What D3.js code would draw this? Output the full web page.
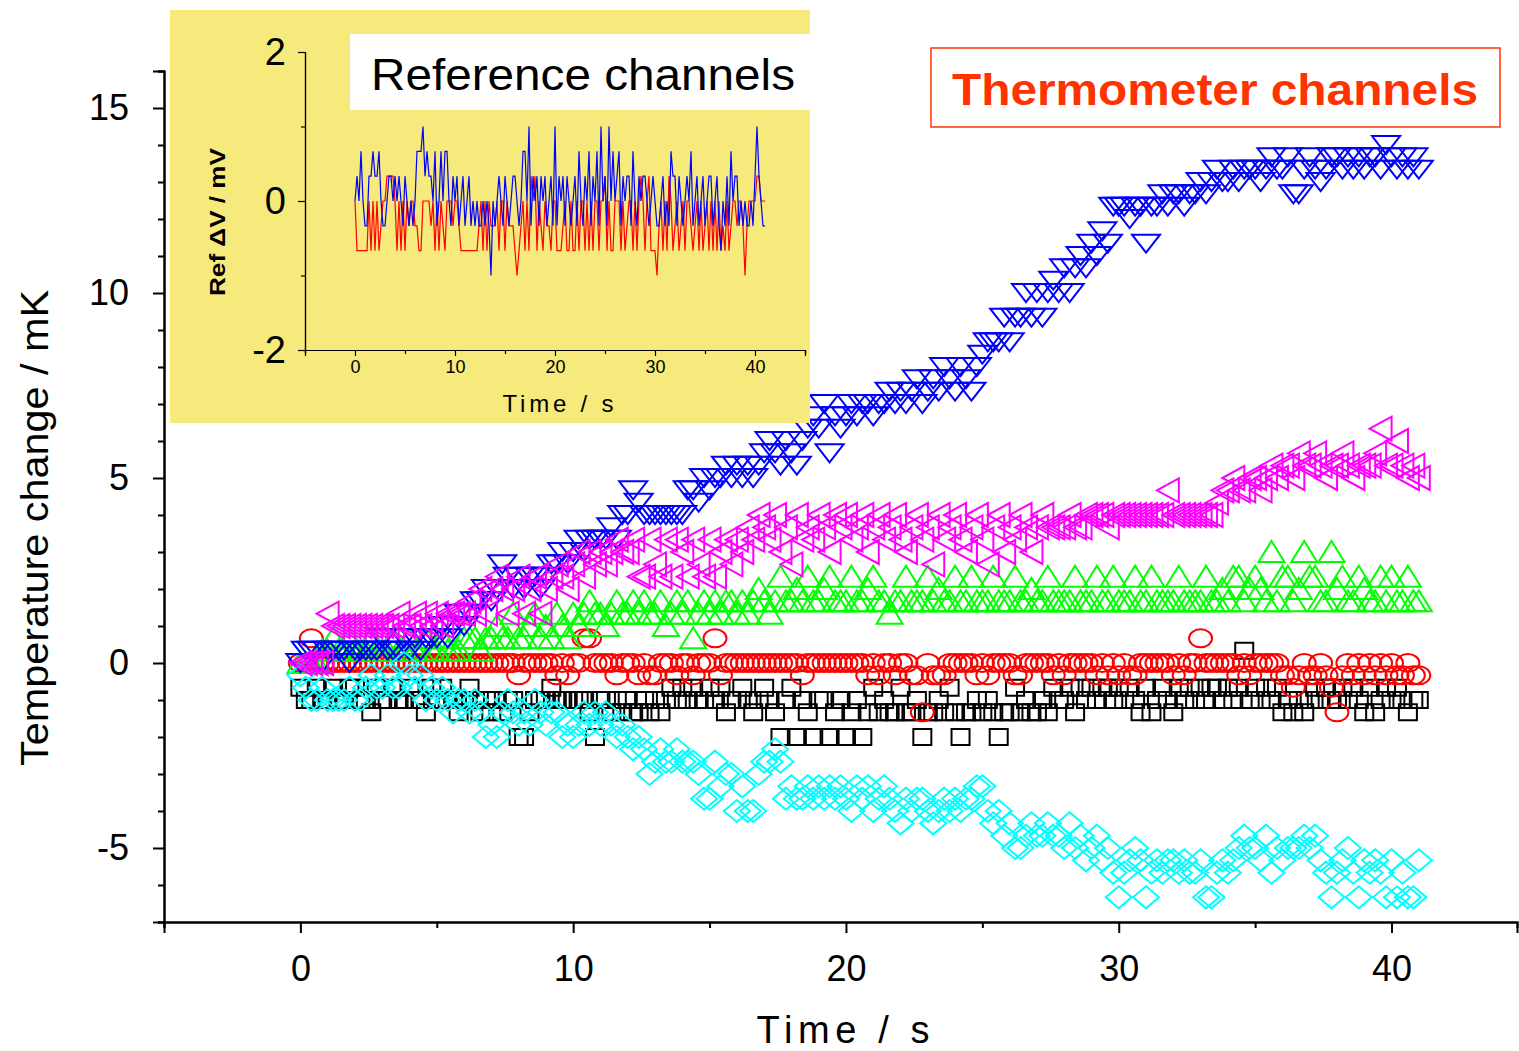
<!DOCTYPE html>
<meta charset="utf-8">

<!-- Import D3.js -->
<script src="https://d3js.org/d3.v7.min.js"></script>

<style>
  body { margin: 0; background: #fff; }
  text { font-family: "Liberation Sans", Arial, sans-serif; }
</style>

<body>
<script>
// Sampling interval of all channels, s
var dt = 0.2;

// Thermometer channels, in units of 1/3 mK (the readout quantum)
var blackT = [
  -2,-3,-3,-2,-3, -3,-2,-3,-3,-2, -2,-3,-3,-4,-2, -3,-3,-2,-3,-3, -2,-3,-3,-4,-2,
  -3,-2,-3,-3,-4, -3,-2,-3,-4,-3, -4,-3,-4,-3,-3, -6,-6,-4,-3,-3, -3,-2,-3,-3,-3,
  -3,-3,-3,-4,-6, -3,-3,-4,-3,-4, -3,-4,-4,-3,-4, -3,-4,-3,-2,-3, -2,-3,-2,-3,-3,
  -2,-3,-2,-4,-3, -3,-2,-3,-4,-3, -2,-3,-4,-6,-3, -2,-6,-3,-4,-6, -3,-3,-6,-4,-3,
  -6,-4,-3,-6,-4, -2,-4,-3,-4,-4, -2,-4,-4,-3,-6, -4,-4,-3,-4,-2, -4,-6,-4,-4,-3,
  -4,-3,-4,-6,-4, -4,-2,-4,-3,-4, -4,-3,-4,-2,-3, -3,-2,-4,-2,-3, -2,-3,-2,-2,-3,
  -2,-3,-2,-3,-4, -2,-4,-3,-2,-3, -4,-2,-3,-2,-3, -2,-3,-2,-2,-3, -2,-3,-2,1,-3,
  -2,-3,-2,-3,-2, -4,-3,-4,-3,-4, -3,-2,-3,-2,-3, -3,-2,-3,-2,-3, -4,-2,-4,-3,-2,
  -3,-2,-3,-4,-3,-3
];
var redT = [
  0,0,2,0,0, 0,0,0,0,0, 0,0,0,0,0, 0,0,0,0,0, 0,0,0,0,0,
  0,0,0,0,0, 0,0,0,0,0, 0,0,0,0,0, -1,0,0,0,0, 0,0,-1,0,-1,
  0,0,2,2,0, 0,0,0,-1,0, 0,0,-1,0,-1, -1,0,0,0,-1, 0,0,-1,0,0,
  0,2,-1,0,0, 0,0,0,0,0, 0,0,0,0,0, 0,0,-1,0,0, 0,0,0,0,0,
  0,0,0,0,-1, 0,-1,0,0,-1, 0,0,-1,-1,-4, 0,-1,-1,-1,0, 0,0,0,0,-1,
  0,-1,0,0,0, 0,-1,-1,0,0, 0,0,0,-1,0, -1,0,0,0,0, 0,-1,0,-1,0,
  -1,0,-1,-1,0, 0,0,0,0,0, -1,0,-1,0,0, 2,0,0,0,0, 0,0,-1,0,-1,
  0,0,0,0,0, -1,-1,-2,-1,0, -1,-1,0,-1,-2, -4,-1,0,-1,0, -1,0,-1,0,-1,
  0,-1,-1,0,-1,-1
];
var greenT = [
  0,0,0,0,1, 1,2,1,1,2, 1,1,1,2,1, 1,1,2,1,1, 2,1,1,2,1,
  1,2,1,1,1, 2,2,2,1,2, 2,3,2,2,4, 2,2,3,4,2, 3,2,4,3,2,
  4,3,4,5,4, 4,3,4,5,4, 4,5,4,5,4, 4,5,3,4,5, 4,5,2,4,5,
  4,5,4,5,5, 4,5,4,5,6, 5,4,5,7,5, 5,6,5,7,5, 5,6,7,5,5,
  5,7,5,5,6, 7,5,5,4,5, 5,7,5,5,5, 7,5,6,5,5, 7,5,5,7,5,
  5,5,7,5,5, 5,7,5,5,6, 5,5,7,5,5, 5,5,7,5,5, 5,7,5,5,7,
  5,5,5,7,5, 5,7,5,5,5, 5,7,5,5,5, 5,7,5,5,6, 5,7,7,5,6,
  7,6,5,9,5, 7,7,5,6,9, 7,7,5,5,9, 6,7,5,5,7, 6,5,5,7,5,
  7,5,5,7,5,5
];
var blueT = [
  0,1,1,1,0, 1,1,1,1,0, 1,1,1,1,1, 2,1,1,1,2, 1,2,1,2,2,
  2,3,2,3,4, 3,4,5,5,6, 5,6,8,7,6, 7,6,7,7,6, 7,8,8,9,8,
  9,10,9,10,10, 10,10,11,10,12, 12,14,13,12,12, 12,12,12,12,12, 12,14,14,13,15,
  14,15,15,16,15, 16,15,16,15,16, 17,18,17,16,18, 17,16,18,19,20, 19,21,17,20,19,
  20,21,20,21,21, 20,21,21,22,21, 22,21,22,23,21, 22,23,22,24,23, 22,24,23,22,24,
  25,26,26,26,28, 26,28,28,30,28, 30,28,30,31,30, 32,30,32,33,32, 34,33,35,34,37,
  37,37,36,37,37, 34,37,37,38,37, 38,38,37,38,38, 39,38,39,40,39, 39,40,39,40,40,
  40,39,40,41,40, 40,41,38,38,40, 41,40,39,40,41, 41,40,41,40,41, 40,41,41,40,42,
  41,40,41,40,41,40
];
var cyanT = [
  -1,-2,-3,-3,-2, -3,-3,-3,-3,-2, -3,-3,-2,-1,-2, -2,-1,-2,-2,0, -1,-2,-1,-3,-2,
  -3,-2,-3,-4,-3, -3,-4,-3,-4,-6, -5,-6,-4,-3,-4, -5,-4,-5,-3,-4, -5,-4,-4,-6,-5,
  -6,-5,-4,-5,-4, -5,-4,-5,-6,-5, -6,-7,-6,-7,-9, -8,-7,-8,-8,-7, -8,-8,-8,-9,-11,
  -11,-8,-10,-9,-9, -12,-10,-12,-12,-9, -8,-8,-7,-8,-11, -10,-11,-11,-10,-11, -10,-11,-10,-11,-10,
  -11,-12,-10,-11,-10, -12,-11,-10,-11,-12, -13,-11,-12,-11,-11, -12,-13,-12,-11,-12, -11,-12,-11,-11,-10,
  -10,-12,-13,-12,-14, -13,-15,-15,-14,-13, -14,-14,-13,-14,-14, -15,-13,-15,-14,-16, -15,-14,-16,-15,-17,
  -19,-17,-16,-15,-16, -19,-17,-16,-17,-16, -16,-17,-16,-17,-17, -16,-19,-19,-17,-16, -17,-16,-15,-14,-15,
  -15,-16,-14,-17,-15, -16,-15,-15,-15,-14, -15,-14,-16,-17,-19, -17,-16,-15,-17,-19, -16,-17,-16,-17,-19,
  -16,-19,-17,-19,-19,-16
];
var magentaT = [
  0,0,0,0,0, 4,3,3,3,3, 3,3,3,3,3, 3,3,3,4,3, 3,4,3,4,3,
  4,3,4,4,4, 4,5,4,6,4, 6,7,6,4,6, 7,4,6,7,4, 6,7,8,7,6,
  8,9,7,9,8, 9,8,9,10,9, 9,10,7,7,10, 8,7,10,7,10, 9,7,10,8,7,
  10,7,9,10,8, 10,9,11,10,12, 11,10,12,9,11, 8,12,10,11,10, 12,11,9,12,11,
  12,10,11,12,9, 11,12,10,11,12, 10,9,11,12,10, 11,8,12,10,11, 12,10,9,11,12,
  10,8,11,12,9, 11,10,12,11,9, 11,12,11,11,11, 11,12,11,11,12, 12,12,12,11,12,
  12,12,12,12,12, 12,12,12,12,14, 12,12,12,12,12, 12,12,12,13,14, 14,15,14,14,15,
  15,14,15,16,15, 16,16,15,17,16, 16,17,16,15,16, 16,17,16,15,16, 16,16,17,19,16,
  16,18,16,15,16,15
];

// Reference channels (inset), in units of 1/3 mV
var refBlue = [
  0,1,0,2,0, -1,-1,1,1,2, 1,1,2,0,-1, -1,0,1,1,0, 1,0,1,0,-1,
  1,0,-1,0,-1, 0,2,2,2,3, 1,2,1,1,0, 2,-1,0,2,0, 2,2,0,-1,1,
  0,1,-1,0,1, -1,0,1,-1,0, -1,0,-1,-1,0, -1,0,-1,-3,0, -1,0,1,0,-1,
  1,0,-1,0,1, 1,0,-1,0,2, 2,0,3,-1,1, 0,1,-1,1,0, 1,-1,0,1,-1,
  3,-1,1,0,1, -1,1,0,-1,0, 1,-1,2,0,-1, 1,0,2,-1,1, 0,2,-1,3,0,
  1,-1,3,0,2, 0,1,2,-1,1, 0,1,1,-1,2, 0,-1,1,0,1, 1,0,-1,0,1,
  0,-1,-1,0,1, -1,0,-1,2,1, 1,-1,1,0,-1, 0,1,0,2,-1, 0,1,-1,0,1,
  -1,0,1,1,-1, 0,1,-1,-2,0, -1,1,-1,2,0, 1,1,-1,0,-1, 0,-1,-1,0,-1,
  1,3,1,0,-1,-1
];
var refRed = [
  0,-2,-2,-2,-2, -2,-2,0,-2,0, -2,0,-2,-1,0, 0,1,1,1,1, 0,-2,0,-2,0,
  -2,0,-1,0,0, -1,-1,-2,-2,0, 0,0,0,-1,0, -2,0,-2,0,-1, -2,0,0,0,-1,
  0,0,-1,-2,-2, -2,-2,-2,-2,-2, -2,-2,-1,0,-2, 0,-2,0,-1,-1, -1,0,-2,0,0,
  -2,0,-1,-1,-1, -2,-3,-2,-1,0, -2,0,-2,1,0, 1,-2,0,-1,-2, 0,-1,-1,-2,0,
  0,-2,-2,-2,-1, 0,-2,-2,0,-2, -2,0,-2,0,0, -2,0,-2,0,-2, 0,0,-2,0,0,
  1,-2,0,-2,-2, 0,0,0,-2,0, -2,-1,0,0,-2, 0,-2,0,1,0, -2,0,1,-2,-2,
  -2,-3,-1,0,-2, 0,-2,1,0,-2, -1,0,-2,-1,0, -2,0,0,-1,-2, -1,0,-2,0,-2,
  -1,0,-2,0,-2, 0,-2,0,-2,-1, -2,0,-2,-1,0, 0,-1,0,0,-1, -3,-1,0,0,0,
  0,1,1,0,0,0
];

// Axis tick values
var mainXMajor = [0, 10, 20, 30, 40];
var mainXMinor = [-5, 5, 15, 25, 35];
var mainYMajor = [-5, 0, 5, 10, 15];
var mainYMinor = [-7, -6, -4, -3, -2, -1, 1, 2, 3, 4, 6, 7, 8, 9, 11, 12, 13, 14, 16];
var insetXMajor = [0, 10, 20, 30, 40];
var insetXMinor = [-5, 5, 15, 25, 35, 45];
var insetYMajor = [-2, 0, 2];
var insetYMinor = [-1, 1];

// plain hyphen minus, like the original labels
var fmt = function(d) { return String(d); };

var width = 1519, height = 1051;

var svg = d3.select("body")
  .append("svg")
  .attr("width", width)
  .attr("height", height);

// ---------- main chart ----------
var x = d3.scaleLinear().domain([-5, 44.6]).range([164, 1517]);
var y = d3.scaleLinear().domain([-7, 16]).range([922, 71]);

// symbol outlines, centred on the data point
var shapes = {
  square:   "M-9,-8h18v16h-18Z",
  circle:   "M-11.5,0A11.5,9 0 1,0 11.5,0A11.5,9 0 1,0 -11.5,0Z",
  up:       "M0,-11L13,10L-13,10Z",
  down:     "M-14,-9L14,-9L0,9Z",
  diamond:  "M0,-11L13,0L0,11L-13,0Z",
  left:     "M-11,0L11,-12L11,12Z"
};

// drawn in the order the plotting program stacks them
var series = [
  {vals: blackT,   color: "#000000", shape: "square"},
  {vals: redT,     color: "#ff0000", shape: "circle"},
  {vals: greenT,   color: "#00ff00", shape: "up"},
  {vals: blueT,    color: "#0000ff", shape: "down"},
  {vals: cyanT,    color: "#00ffff", shape: "diamond"},
  {vals: magentaT, color: "#ff00ff", shape: "left"}
];

series.forEach(function(s) {
  svg.append("g")
    .selectAll("path")
    .data(s.vals)
    .enter()
    .append("path")
    .attr("d", shapes[s.shape])
    .attr("transform", function(d, i) {
      return "translate(" + x(i * dt) + "," + y(d / 3) + ")";
    })
    .attr("fill", "none")
    .attr("stroke", s.color)
    .attr("stroke-width", 2);
});

// axes
var yAxis = svg.append("g")
  .attr("transform", "translate(164,0)")
  .call(d3.axisLeft(y).tickValues(mainYMajor).tickSize(11).tickPadding(24)
        .tickFormat(fmt));
svg.append("g")
  .attr("transform", "translate(164,0)")
  .call(d3.axisLeft(y).tickValues(mainYMinor).tickSize(6).tickFormat(""));

var xAxis = svg.append("g")
  .attr("transform", "translate(0,922)")
  .call(d3.axisBottom(x).tickValues(mainXMajor).tickSize(11).tickPadding(22)
        .tickFormat(fmt));
svg.append("g")
  .attr("transform", "translate(0,922)")
  .call(d3.axisBottom(x).tickValues(mainXMinor).tickSize(6).tickFormat(""));

svg.selectAll(".domain").attr("stroke-width", 2);
svg.selectAll(".tick line").attr("stroke-width", 2);
yAxis.selectAll("text").attr("font-size", 36).attr("font-family", "Liberation Sans, Arial, sans-serif");
xAxis.selectAll("text").attr("font-size", 36).attr("font-family", "Liberation Sans, Arial, sans-serif");

// axis titles
svg.append("text")
  .attr("transform", "translate(48,528) rotate(-90)")
  .attr("text-anchor", "middle")
  .attr("font-size", 38)
  .attr("textLength", 476)
  .attr("lengthAdjust", "spacingAndGlyphs")
  .text("Temperature change / mK");

svg.append("text")
  .attr("x", 843)
  .attr("y", 1043)
  .attr("text-anchor", "middle")
  .attr("font-size", 38)
  .attr("textLength", 173)
  .attr("lengthAdjust", "spacing")
  .text("Time / s");

// "Thermometer channels" label
svg.append("rect")
  .attr("x", 931).attr("y", 48)
  .attr("width", 569).attr("height", 79)
  .attr("fill", "#fff")
  .attr("stroke", "#ff3300")
  .attr("stroke-width", 1.5);
svg.append("text")
  .attr("x", 1215)
  .attr("y", 105)
  .attr("text-anchor", "middle")
  .attr("font-size", 44)
  .attr("font-weight", "bold")
  .attr("fill", "#ff3300")
  .attr("textLength", 526)
  .attr("lengthAdjust", "spacingAndGlyphs")
  .text("Thermometer channels");

// ---------- inset ----------
var inset = svg.append("g");

inset.append("rect")
  .attr("x", 170).attr("y", 10)
  .attr("width", 640).attr("height", 413)
  .attr("fill", "#f5ea7b");

inset.append("rect")
  .attr("x", 350).attr("y", 34)
  .attr("width", 460).attr("height", 76)
  .attr("fill", "#ffffff");
inset.append("text")
  .attr("x", 583)
  .attr("y", 90)
  .attr("text-anchor", "middle")
  .attr("font-size", 45)
  .attr("textLength", 424)
  .attr("lengthAdjust", "spacingAndGlyphs")
  .text("Reference channels");

var ix = d3.scaleLinear().domain([-5, 45]).range([305, 805]);
var iy = d3.scaleLinear().domain([-2, 2]).range([350, 52]);

var line = d3.line()
  .x(function(d, i) { return ix(i * dt); })
  .y(function(d) { return iy(d / 3); });

inset.append("path")
  .datum(refRed)
  .attr("d", line)
  .attr("fill", "none")
  .attr("stroke", "#ff0000")
  .attr("stroke-width", 1.2);
inset.append("path")
  .datum(refBlue)
  .attr("d", line)
  .attr("fill", "none")
  .attr("stroke", "#0000ff")
  .attr("stroke-width", 1.2);

var iyAxis = inset.append("g")
  .attr("transform", "translate(305,0)")
  .call(d3.axisLeft(iy).tickValues(insetYMajor).tickSize(7).tickPadding(12)
        .tickFormat(fmt));
inset.append("g")
  .attr("transform", "translate(305,0)")
  .call(d3.axisLeft(iy).tickValues(insetYMinor).tickSize(4).tickFormat(""));
var ixAxis = inset.append("g")
  .attr("transform", "translate(0,350)")
  .call(d3.axisBottom(ix).tickValues(insetXMajor).tickSize(6).tickPadding(4)
        .tickFormat(fmt));
inset.append("g")
  .attr("transform", "translate(0,350)")
  .call(d3.axisBottom(ix).tickValues(insetXMinor).tickSize(4).tickFormat(""));

inset.selectAll(".domain").attr("stroke-width", 1.2);
inset.selectAll(".tick line").attr("stroke-width", 1.2);
iyAxis.selectAll("text").attr("font-size", 38).attr("font-family", "Liberation Sans, Arial, sans-serif");
ixAxis.selectAll("text").attr("font-size", 18).attr("font-family", "Liberation Sans, Arial, sans-serif");

inset.append("text")
  .attr("transform", "translate(225,222) rotate(-90)")
  .attr("text-anchor", "middle")
  .attr("font-size", 22)
  .attr("font-weight", "bold")
  .attr("textLength", 148)
  .attr("lengthAdjust", "spacingAndGlyphs")
  .text("Ref \u0394V / mV");

inset.append("text")
  .attr("x", 558)
  .attr("y", 412)
  .attr("text-anchor", "middle")
  .attr("font-size", 24)
  .attr("textLength", 111)
  .attr("lengthAdjust", "spacing")
  .text("Time / s");

</script>
</body>
</html>
